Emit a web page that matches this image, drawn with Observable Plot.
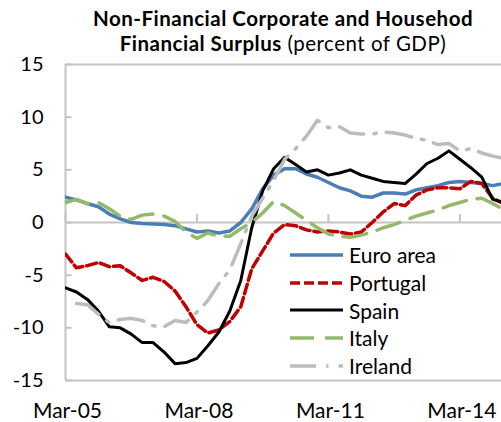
<!DOCTYPE html>
<html><head><meta charset="utf-8">
<script src="https://cdn.jsdelivr.net/npm/d3@7"></script>
<script src="https://cdn.jsdelivr.net/npm/@observablehq/plot@0.6"></script>
<style>
body{margin:0;background:#fff;}
#wrap{position:relative;width:501px;height:422px;font-family:Lato, sans-serif;overflow:hidden;background:#fff;}
#title{position:absolute;left:65px;width:436px;top:6px;text-align:center;font-size:20.5px;line-height:24.6px;letter-spacing:0.5px;color:#000;white-space:nowrap;z-index:2;}
#chart{position:absolute;left:0;top:36px;}
#legend{position:absolute;left:290px;top:241px;font-size:21px;color:#000;}
.row{display:flex;align-items:center;height:27.7px;}
.row span{margin-left:6px;}
</style></head>
<body><div id="wrap">
<div id="title"><b>Non-Financial Corporate and Househod</b><br><b>Financial Surplus</b> (percent of GDP)</div>
<div id="chart"></div>
<div id="legend"></div>
</div>
<script>
// Quarterly observations, Mar-05 (index 0) to Mar-15 (index 40)
const xTicks = [0, 12, 24, 36];
const xTickLabels = ["Mar-05", "Mar-08", "Mar-11", "Mar-14"];
const yTicks = [-15, -10, -5, 0, 5, 10, 15];
const yTickLabels = ["-15", "-10", "-5", "0", "5", "10", "15"];

const seriesNames = ["Euro area", "Portugal", "Spain", "Italy", "Ireland"];
const euroArea = [2.4,2.15,1.8,1.5,0.8,0.35,0.0,-0.1,-0.15,-0.2,-0.3,-0.6,-0.9,-0.8,-1.0,-0.8,0.0,1.3,3.2,4.5,5.1,5.1,4.6,4.3,3.8,3.3,3.0,2.5,2.4,2.8,2.8,2.7,3.1,3.3,3.5,3.8,3.9,3.8,3.7,3.5,3.7];
const portugal = [-3.0,-4.3,-4.1,-3.8,-4.2,-4.1,-4.8,-5.5,-5.2,-5.6,-6.5,-8.0,-9.7,-10.5,-10.2,-9.4,-8.0,-4.4,-2.7,-1.0,-0.2,-0.3,-0.7,-0.9,-0.8,-0.9,-1.1,-0.9,0.0,1.0,1.8,1.6,2.6,3.1,3.3,3.3,3.2,3.9,3.7,2.3,1.8];
const spain = [-6.2,-6.6,-7.3,-8.4,-9.9,-10.0,-10.6,-11.4,-11.4,-12.3,-13.4,-13.3,-12.9,-11.7,-10.4,-8.4,-5.5,-0.5,3.0,5.1,6.2,5.5,4.8,5.0,4.5,4.7,5.0,4.5,4.2,3.9,3.8,3.7,4.6,5.6,6.1,6.8,6.0,5.2,4.3,2.2,1.9];
const italy = [1.9,2.2,1.8,1.9,1.3,0.6,0.3,0.7,0.8,0.6,0.1,-0.9,-1.5,-1.0,-1.3,-1.3,-0.6,0.0,0.9,2.0,1.6,0.9,0.2,-0.5,-1.1,-1.3,-1.4,-1.2,-0.9,-0.5,-0.2,0.2,0.6,0.9,1.2,1.6,1.9,2.2,2.3,1.8,1.2];
const ireland = [null,-7.7,-7.8,-8.7,-9.5,-9.2,-9.1,-9.3,-9.8,-9.9,-9.3,-9.5,-8.5,-7.4,-5.8,-4.5,-2.0,0.6,2.3,4.0,6.0,7.0,8.2,9.7,9.0,9.1,8.5,8.4,8.4,8.6,8.5,8.3,8.0,7.8,7.4,7.5,6.8,7.0,6.6,6.3,6.1];

const seriesValues = [euroArea, portugal, spain, italy, ireland];
const styles = [
  {stroke: "#4a7fb5", dash: null, width: 3.5},
  {stroke: "#c00000", dash: "10,4", width: 3.5},
  {stroke: "#000000", dash: null, width: 3},
  {stroke: "#93b96a", dash: "24,11", width: 3.5},
  {stroke: "#bcbcbc", dash: "26,10,2.5,10", width: 3.5}
];

const rows = seriesNames.flatMap((name, s) =>
  seriesValues[s].map((v, q) => ({name, q, v})).filter(d => d.v != null));

const axisGray = "#c4c4c4";
const lineMarks = seriesNames.map((name, s) =>
  Plot.line(rows.filter(d => d.name === name), {
    x: "q", y: "v", stroke: styles[s].stroke, strokeWidth: styles[s].width,
    strokeDasharray: styles[s].dash, strokeLinejoin: "round", clip: true
  }));

const chart = Plot.plot({
  width: 501, height: 386,
  marginLeft: 65, marginRight: 0, marginTop: 28, marginBottom: 42,
  style: {fontFamily: "Lato, sans-serif", fontSize: "20px", color: "#000", background: "transparent"},
  x: {domain: [0, 39.8], label: null},
  y: {domain: [-15, 15], label: null},
  marks: [
    Plot.ruleY([0], {stroke: axisGray, strokeWidth: 2}),
    Plot.ruleY([-15, 15], {stroke: axisGray, strokeWidth: 2}),
    Plot.ruleX([0], {stroke: axisGray, strokeWidth: 2}),
    Plot.ruleY(yTicks, {x1: 0, x2: 0.6, stroke: axisGray, strokeWidth: 2}),
    Plot.ruleX(xTicks, {y1: 0, y2: 0.75, stroke: axisGray, strokeWidth: 2}),
    Plot.axisY({ticks: yTicks, tickSize: 0, tickPadding: 22, tickFormat: d => yTickLabels[yTicks.indexOf(d)]}),
    Plot.axisX({ticks: xTicks, tickSize: 0, tickPadding: 23, dx: 2, fontSize: 21, tickFormat: d => xTickLabels[xTicks.indexOf(d)]}),
    ...lineMarks
  ]
});
document.getElementById("chart").appendChild(chart);

const legend = document.getElementById("legend");
seriesNames.forEach((name, s) => {
  const row = document.createElement("div");
  row.className = "row";
  const dash = styles[s].dash ? ` stroke-dasharray="${styles[s].dash}"` : "";
  row.innerHTML = `<svg width="53" height="10"><line x1="0" y1="5" x2="53" y2="5" stroke="${styles[s].stroke}" stroke-width="${styles[s].width}"${dash}/></svg><span>${name}</span>`;
  legend.appendChild(row);
});
</script></body></html>
